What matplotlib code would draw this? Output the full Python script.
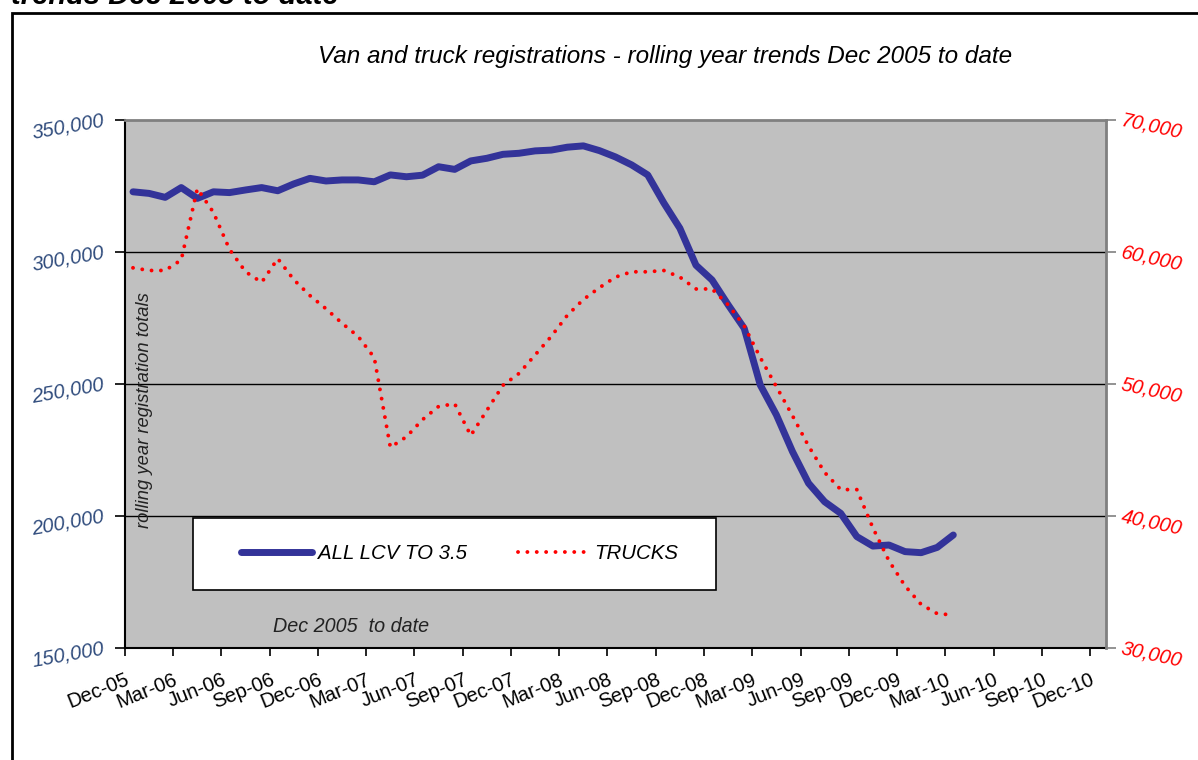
import numpy as np
import matplotlib
matplotlib.use('Agg')
import matplotlib.pyplot as plt
import matplotlib.transforms as mtransforms
from matplotlib.patches import Rectangle
from matplotlib.ticker import FuncFormatter

plt.rcParams['font.family'] = ['Liberation Sans', 'DejaVu Sans']

# quarter tick labels on the month axis (Dec-05 .. Dec-10)
tick_labels = ['Dec-05', 'Mar-06', 'Jun-06', 'Sep-06', 'Dec-06', 'Mar-07', 'Jun-07',
               'Sep-07', 'Dec-07', 'Mar-08', 'Jun-08', 'Sep-08', 'Dec-08', 'Mar-09',
               'Jun-09', 'Sep-09', 'Dec-09', 'Mar-10', 'Jun-10', 'Sep-10', 'Dec-10']

# monthly rolling-year totals, Dec-05 .. Mar-10
lcv = [322800, 322200, 320700, 324400, 320300, 322800, 322500, 323500, 324400, 323200,
       325800, 327900, 326900, 327300, 327300, 326600, 329200, 328500, 329100, 332300,
       331300, 334500, 335500, 337000, 337400, 338300, 338600, 339700, 340200, 338400,
       336000, 333000, 329200, 318600, 309000, 295000, 289400, 280000, 271100, 249600,
       238300, 224400, 212400, 205400, 201000, 192200, 188600, 189000, 186500, 186100,
       188100, 192800]

trucks = [58800, 58600, 58600, 59400, 64800, 63000, 60200, 58500, 57700, 59500,
          57900, 56700, 55700, 54600, 53600, 52000, 45200, 46000, 47300, 48300,
          48500, 46100, 48000, 49900, 50800, 52200, 53600, 55200, 56400, 57300,
          58100, 58500, 58500, 58600, 58100, 57200, 57200, 56000, 54400, 52000,
          49800, 47600, 45300, 43300, 42000, 42000, 39100, 36600, 34700, 33300,
          32600, 32500]

months = np.arange(len(lcv)) + 0.5

fig = plt.figure(figsize=(11.98, 7.6), dpi=100)
ax = fig.add_axes([0.1043, 0.1474, 0.819, 0.6947])
ax.set_facecolor('#C0C0C0')
ax2 = ax.twinx()

l1, = ax.plot(months, lcv, color='#333399', lw=5, solid_capstyle='round',
              solid_joinstyle='round', label='ALL LCV TO 3.5')
l2, = ax2.plot(months, trucks, color='#FF0000', lw=2.8, linestyle=(0, (0.01, 2.4)),
               dash_capstyle='round', label='TRUCKS')

ax.set_xlim(0, 61)
ax.set_xticks(np.arange(0, 61, 3))
ax.set_xticklabels(tick_labels, rotation=22, ha='right', rotation_mode='anchor',
                   fontsize=14.5)
shift = mtransforms.ScaledTranslation(9 / 100, 0, fig.dpi_scale_trans)
for t in ax.get_xticklabels():
    t.set_transform(t.get_transform() + shift)

ax.set_ylim(150000, 350000)
ax.set_yticks(np.arange(150000, 350001, 50000))
ax.yaxis.set_major_formatter(FuncFormatter(lambda v, p: '{:,.0f}'.format(v)))
for t in ax.get_yticklabels():
    t.set_color('#2F4B7C')
    t.set_fontstyle('italic')
    t.set_fontsize(14.5)
    t.set_rotation(10)
    t.set_rotation_mode('anchor')
    t.set_ha('right')
    t.set_va('center')

ax2.set_ylim(30000, 70000)
ax2.set_yticks(np.arange(30000, 70001, 10000))
ax2.yaxis.set_major_formatter(FuncFormatter(lambda v, p: '{:,.0f}'.format(v)))
for t in ax2.get_yticklabels():
    t.set_color('#FF0000')
    t.set_fontstyle('italic')
    t.set_fontsize(14.5)
    t.set_rotation(-12)
    t.set_rotation_mode('anchor')
    t.set_ha('left')
    t.set_va('center')

ax.grid(axis='y', color='black', lw=1)
ax.set_axisbelow(True)
ax.yaxis.get_gridlines()[-1].set_visible(False)

ax.tick_params(axis='x', length=6, width=1.2, pad=10, colors='black')
ax.tick_params(axis='y', length=7, width=1.2, pad=8)
ax2.tick_params(axis='y', length=7, width=1.2, color='#808080', pad=4)

for s in ['left', 'bottom']:
    ax.spines[s].set_color('black')
    ax.spines[s].set_linewidth(1.5)
ax.spines['top'].set_color('#808080')
ax.spines['top'].set_linewidth(2)
ax.spines['right'].set_visible(False)
for s in ['left', 'bottom', 'top']:
    ax2.spines[s].set_visible(False)
ax2.spines['right'].set_color('#808080')
ax2.spines['right'].set_linewidth(2)

# legend box
ax2.add_patch(Rectangle((0.0693, 0.1098), 0.533, 0.136, transform=ax2.transAxes,
                        facecolor='white', edgecolor='black', lw=1.2, zorder=4))
leg = ax2.legend(handles=[l1, l2], loc='center', bbox_to_anchor=(0.341, 0.178),
                 ncol=2, frameon=False, handlelength=3.5, handletextpad=0.25,
                 columnspacing=2.5, prop={'style': 'italic', 'size': 14.7})
leg.set_zorder(5)

ax2.text(0.0204, 0.451, 'rolling year registration totals', rotation=90,
         transform=ax2.transAxes, ha='center', va='center', style='italic',
         fontsize=13.2, color='#222222')
ax2.text(0.230, 0.04, 'Dec 2005  to date', transform=ax2.transAxes, ha='center',
         va='center', style='italic', fontsize=14.2, color='#222222')

fig.text(0.555, 0.925, 'Van and truck registrations - rolling year trends Dec 2005 to date',
         ha='center', va='center', style='italic', fontsize=17.5)
fig.text(0.009, 1 - 4 / 760, 'trends Dec 2005 to date', ha='left', va='baseline',
         style='italic', weight='bold', fontsize=21)

# outer frame of the chart object
fig.add_artist(Rectangle((0.01, -0.05), 1.2, 1.0329, transform=fig.transFigure,
                         fill=False, edgecolor='black', lw=2))

fig.savefig('out.png', dpi=100)
